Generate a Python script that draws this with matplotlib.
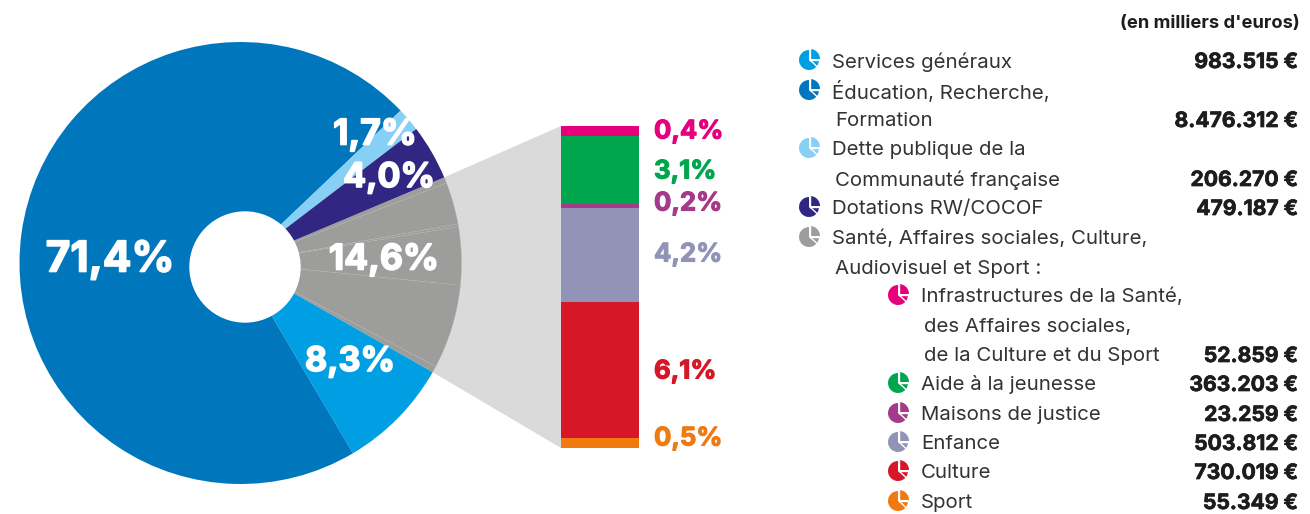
import matplotlib
matplotlib.use("Agg")
import numpy as np
import matplotlib.pyplot as plt
import matplotlib.patheffects as pe
from matplotlib.patches import Wedge, Polygon

# Data (en milliers d'euros)
main_names = ["Services généraux", "Éducation", "Dette", "Dotations"]
main_values = [983515, 8476312, 206270, 479187]
main_colors = ["#009fe3", "#0077bd", "#87d0f5", "#312783"]
main_labels = ["8,3%", "71,4%", "1,7%", "4,0%"]

# from bottom to top in the bar
sub_values = [55349, 730019, 503812, 23259, 363203, 52859]
sub_colors = ["#f07a10", "#d61728", "#9194b7", "#a53a8b", "#00a64d", "#e6007e"]
sub_labels = ["0,5%", "6,1%", "4,2%", "0,2%", "3,1%", "0,4%"]
grey_label = "14,6%"
grey = "#9d9d9c"
light_grey = "#dadada"

W, H = 1310, 514
fig = plt.figure(figsize=(W / 100, H / 100), dpi=100)
plt.rcParams["font.family"] = ["Inter", "DejaVu Sans"]

# overlay in pixels, y going up
bg = fig.add_axes([0, 0, 1, 1])
bg.set_xlim(0, W)
bg.set_ylim(0, H)
bg.axis("off")


def py(y):
    return H - y


def heavy(color, lw=0.8):
    return [pe.withStroke(linewidth=lw, foreground=color)]


cx, cy, R = 240.5, py(263), 221
total = sum(main_values) + sum(sub_values)
grey_total = sum(sub_values)
grey_deg = 360 * grey_total / total
top_angle = 22.8
bottom_angle = top_angle - grey_deg

# light grey funnel between the pie and the bar
bar_left, bar_right, bar_top, bar_bottom = 561, 639, 126, 448
funnel = Polygon([
    (cx + R * np.cos(np.radians(top_angle)), cy + R * np.sin(np.radians(top_angle))),
    (bar_left, py(bar_top)),
    (bar_left, py(bar_bottom)),
    (cx + R * np.cos(np.radians(bottom_angle)), cy + R * np.sin(np.radians(bottom_angle))),
], facecolor=light_grey, edgecolor="none", zorder=1)
bg.add_patch(funnel)

# pie: going clockwise from the top of the grey part
pie_values = sub_values[::-1] + main_values
pie_colors = [grey] * len(sub_values) + main_colors
wedges, _ = bg.pie(pie_values, colors=pie_colors, center=(cx, cy), radius=R,
                   startangle=top_angle, counterclock=False, frame=False,
                   wedgeprops={"linewidth": 0})
for w in wedges:
    w.set_zorder(2)
for w in wedges[:len(sub_values)]:
    w.set_edgecolor("#b4b4b3")
    w.set_linewidth(0.2)
bg.set_xlim(0, W)
bg.set_ylim(0, H)
bg.set_aspect("auto")
bg.axis("off")

# hole
bg.add_patch(plt.Circle((245, py(267)), 55, color="white", zorder=3))

# pie labels
pie_text = [(110, 260, "71,4%", 30.5), (384, 260, grey_label, 25.5), (350, 362, "8,3%", 24.5),
            (375, 135, "1,7%", 25.5), (389, 178, "4,0%", 24.5)]
for x, y, s, size in pie_text:
    bg.text(x, py(y), s, color="white", fontsize=size, fontweight="bold",
            ha="center", va="center", zorder=4, path_effects=heavy("white", 1.2))

# stacked bar in its own axes
bar_ax = fig.add_axes([bar_left / W, py(bar_bottom) / H, (bar_right - bar_left) / W,
                       (bar_bottom - bar_top) / H])
bar_ax.bar([0], sub_values, bottom=np.cumsum([0] + sub_values[:-1]), width=1, color=sub_colors)
bar_ax.set_xlim(-0.5, 0.5)
bar_ax.set_ylim(0, grey_total)
bar_ax.axis("off")

label_y = [439, 372, 255, 204, 172, 132]
for y, s, c in zip(label_y, sub_labels, sub_colors):
    bg.text(654, py(y), s, color=c, fontsize=18.5, fontweight="bold", ha="left", va="center",
            path_effects=heavy(c))

# legend
bg.text(1300, py(24), "(en milliers d'euros)", fontsize=13.2, fontweight="bold",
        color="#1d1d1b", ha="right", va="center")


def icon(x, y, color):
    r = 10
    bg.add_patch(Wedge((x, py(y)), r, 90, 360, color=color, lw=0))
    bg.add_patch(Wedge((x + 1, py(y) + 1), r, 0, 90, color=color, lw=0))
    bg.plot([x + 0.5, x + 0.5], [py(y), py(y) + r + 1], color="white", lw=1)
    bg.plot([x + 0.5, x + r + 1], [py(y) + 0.5, py(y) + 0.5], color="white", lw=1)
    bg.plot([x + 1, x + 8], [py(y), py(y) - 6.5], color="white", lw=1)


text_rows = [
    (832, 60, "Services généraux", "983.515 €", "#009fe3", 809),
    (832, 90, "Éducation, Recherche,", None, "#0077bd", 809),
    (835, 119, "Formation", "8.476.312 €", None, None),
    (832, 148, "Dette publique de la", None, "#87d0f5", 809),
    (835, 178, "Communauté française", "206.270 €", None, None),
    (832, 207, "Dotations RW/COCOF", "479.187 €", "#312783", 809),
    (832, 237, "Santé, Affaires sociales, Culture,", None, "#9d9d9c", 809),
    (835, 267, "Audiovisuel et Sport :", None, None, None),
    (921, 295, "Infrastructures de la Santé,", None, "#e6007e", 898),
    (924, 325, "des Affaires sociales,", None, None, None),
    (924, 354, "de la Culture et du Sport", "52.859 €", None, None),
    (921, 383, "Aide à la jeunesse", "363.203 €", "#00a64d", 898),
    (921, 413, "Maisons de justice", "23.259 €", "#a53a8b", 898),
    (921, 442, "Enfance", "503.812 €", "#9194b7", 898),
    (921, 471, "Culture", "730.019 €", "#d61728", 898),
    (921, 501, "Sport", "55.349 €", "#f07a10", 898),
]
for x, y, s, val, col, ix in text_rows:
    bg.text(x, py(y + 2), s, fontsize=14.7, color="#333333", ha="left", va="center")
    if val:
        bg.text(1298, py(y + 2), val, fontsize=15.2, fontweight="bold", color="#1d1d1b",
                ha="right", va="center", path_effects=heavy("#1d1d1b", 0.5))
    if col:
        icon(ix, y, col)

fig.savefig("out.png", dpi=100)
